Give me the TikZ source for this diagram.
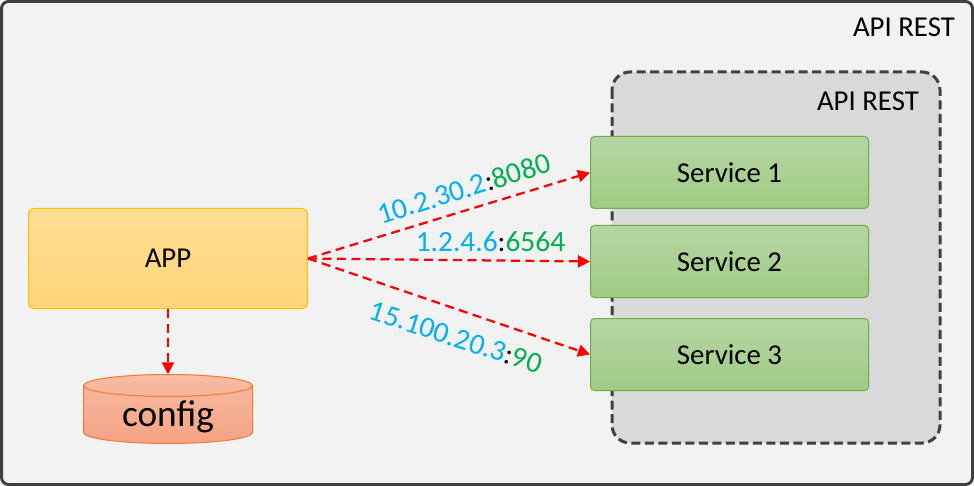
\documentclass[tikz,border=0pt]{standalone}
\usepackage{fontspec}
\setmainfont{Carlito}
\usetikzlibrary{arrows.meta}
\definecolor{frame}{HTML}{404040}
\definecolor{ipblue}{HTML}{00B0F0}
\definecolor{portgreen}{HTML}{00B050}
\definecolor{svcline}{RGB}{112,173,71}
\definecolor{svctop}{RGB}{183,213,165}
\definecolor{svcbot}{RGB}{158,203,130}
\definecolor{appline}{RGB}{255,192,0}
\definecolor{apptop}{RGB}{255,221,150}
\definecolor{appbot}{RGB}{255,213,120}
\definecolor{cfgline}{RGB}{237,125,49}
\definecolor{cfgtop}{RGB}{247,187,163}
\definecolor{cfgbot}{RGB}{245,162,131}
\newcommand{\addr}[2]{\textcolor{ipblue}{#1}:\textcolor{portgreen}{#2}}
\tikzset{
  x=1pt,y=-1pt,
  every node/.style={font=\fontsize{28.8}{32}\selectfont,text=black,inner sep=0pt},
  addrlabel/.style={font=\fontsize{29.4}{32}\selectfont},
  outerbox/.style={draw=frame,line width=3pt,fill=black!5,rounded corners=7pt},
  innerbox/.style={draw=frame,line width=3pt,fill=black!15,rounded corners=18pt,dash pattern=on 9pt off 4.5pt},
  servicebox/.style={draw=svcline,line width=1pt,rounded corners=4pt,
    top color=svctop,bottom color=svcbot,
    minimum width=278pt,minimum height=72pt},
  appbox/.style={draw=appline,line width=1pt,rounded corners=5pt,
    top color=apptop,bottom color=appbot,
    minimum width=279pt,minimum height=100pt},
  link/.style={draw=red,line width=2.25pt,dash pattern=on 9pt off 5.5pt,-{Triangle[length=12pt,width=12pt,fill=red]}},
}
\begin{document}
\begin{tikzpicture}
\useasboundingbox (0,0) rectangle (974,486);
\path[outerbox] (1.5,1.5) rectangle (972.5,484.5);
\path[innerbox] (612,72) rectangle (940,443);
\node[anchor=base east] (outerlabel) at (955,37) {API REST};
\node[anchor=base east] (innerlabel) at (919,111) {API REST};
\node[servicebox] (s1) at (729.5,172.5) {Service 1};
\node[servicebox] (s2) at (729.5,261.5) {Service 2};
\node[servicebox] (s3) at (729.5,354.5) {Service 3};
\node[appbox] (app) at (168,258.5) {APP};
% config cylinder
\path[draw=cfgline,line width=1pt,top color=cfgtop,bottom color=cfgbot]
  (83.5,385.5) arc[start angle=180,end angle=360,x radius=84.5,y radius=11]
  -- (252.5,432.5) arc[start angle=0,end angle=180,x radius=84.5,y radius=11] -- cycle;
\draw[cfgline,line width=1pt]
  (83.5,385.5) arc[start angle=180,end angle=0,x radius=84.5,y radius=11];
\node[minimum width=169pt,minimum height=69pt] (config) at (168,409) {};
\node[font=\fontsize{37.3}{40}\selectfont,anchor=base] (configlabel) at (168,426) {config};
\draw[link] (app.east) -- (s1.west);
\draw[link] (app.east) -- (s2.west);
\draw[link] (app.east) -- (s3.west);
\draw[link] (app.south) -- (config.north);
\node[addrlabel,rotate=17.4] (l1) at (464,188.5) {\addr{10.2.30.2}{8080}};
\node[addrlabel] (l2) at (490.5,242) {\addr{1.2.4.6}{6564}};
\node[addrlabel,rotate=-18] (l3) at (456,337.5) {\addr{15.100.20.3}{90}};
\end{tikzpicture}
\end{document}
